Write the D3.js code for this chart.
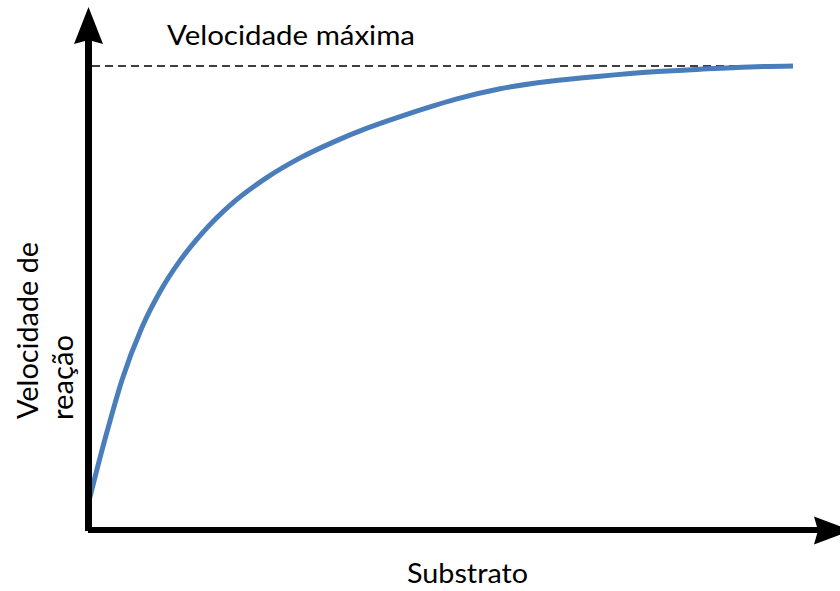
<!DOCTYPE html>
<html>
<head>
<meta charset="utf-8">
<script src="https://cdn.jsdelivr.net/npm/d3@7"></script>
<style>
  html, body { margin: 0; padding: 0; background: #fff; }
  svg { display: block; }
  text { font-family: Lato, "Open Sans", sans-serif; fill: #000; }
</style>
</head>
<body>
<svg id="chart" width="840" height="591"></svg>
<script>
// Substrate concentration (relative units, 0–100)
const substrate = [0.1, 0.6, 2.6, 4.7, 7.5, 10.1, 12.9, 15.8, 20.5, 25.3, 30.0, 34.7,
                   39.5, 44.2, 48.9, 52.0, 58.4, 65.5, 72.6, 79.7, 86.8, 93.9, 100];
// Reaction velocity (% of maximum velocity)
const velocity  = [6.9, 9.9, 21.4, 32.4, 43.6, 51.4, 58.0, 63.5, 70.6, 76.0, 80.2, 83.6,
                   86.6, 89.1, 91.4, 92.8, 95.1, 96.7, 97.8, 98.7, 99.3, 99.8, 100.0];
const vmax = 100;

const labels = {
  vmax: "Velocidade máxima",
  x: "Substrato",
  y: ["Velocidade de", "reação"]
};

const svg = d3.select("#chart");

const x = d3.scaleLinear().domain([0, 100]).range([89, 793]);
const y = d3.scaleLinear().domain([0, 100]).range([530, 66]);

const points = substrate.map((s, i) => ({ s, v: velocity[i] }));

// Dashed line at maximum velocity
svg.append("line")
  .attr("x1", 92).attr("x2", x(100))
  .attr("y1", y(vmax)).attr("y2", y(vmax))
  .attr("stroke", "#000")
  .attr("stroke-width", 1.5)
  .attr("stroke-dasharray", "8,5");

// Saturation curve
const line = d3.line()
  .x(d => x(d.s))
  .y(d => y(d.v))
  .curve(d3.curveMonotoneX);

svg.append("path")
  .datum(points)
  .attr("d", line)
  .attr("fill", "none")
  .attr("stroke", "#4a7ebb")
  .attr("stroke-width", 5);

// Axes with arrowheads
const ax = x(0) - 0.5;   // vertical axis position
const ay = y(0);         // horizontal axis position

svg.append("line")
  .attr("x1", ax).attr("x2", ax)
  .attr("y1", 531).attr("y2", 40)
  .attr("stroke", "#000").attr("stroke-width", 7);

svg.append("line")
  .attr("x1", 88).attr("x2", 820)
  .attr("y1", ay).attr("y2", ay)
  .attr("stroke", "#000").attr("stroke-width", 6);

svg.append("path")
  .attr("d", `M${ax},7 L${ax + 14.5},44 L${ax},40 L${ax - 14.5},44 Z`)
  .attr("fill", "#000");

svg.append("path")
  .attr("d", `M851,${ay + 0.5} L814,${ay - 13.5} L818,${ay + 0.5} L814,${ay + 14.5} Z`)
  .attr("fill", "#000");

// Labels
svg.append("text")
  .attr("x", 167).attr("y", 45)
  .attr("font-size", 27)
  .attr("textLength", 248).attr("lengthAdjust", "spacingAndGlyphs")
  .text(labels.vmax);

svg.append("text")
  .attr("x", 407).attr("y", 583)
  .attr("font-size", 27)
  .attr("textLength", 121).attr("lengthAdjust", "spacingAndGlyphs")
  .text(labels.x);

svg.append("text")
  .attr("transform", "translate(38,419) rotate(-90)")
  .attr("font-size", 28)
  .attr("textLength", 177).attr("lengthAdjust", "spacingAndGlyphs")
  .text(labels.y[0]);

svg.append("text")
  .attr("transform", "translate(73,420) rotate(-90)")
  .attr("font-size", 28)
  .attr("textLength", 85).attr("lengthAdjust", "spacingAndGlyphs")
  .text(labels.y[1]);
</script>
</body>
</html>
